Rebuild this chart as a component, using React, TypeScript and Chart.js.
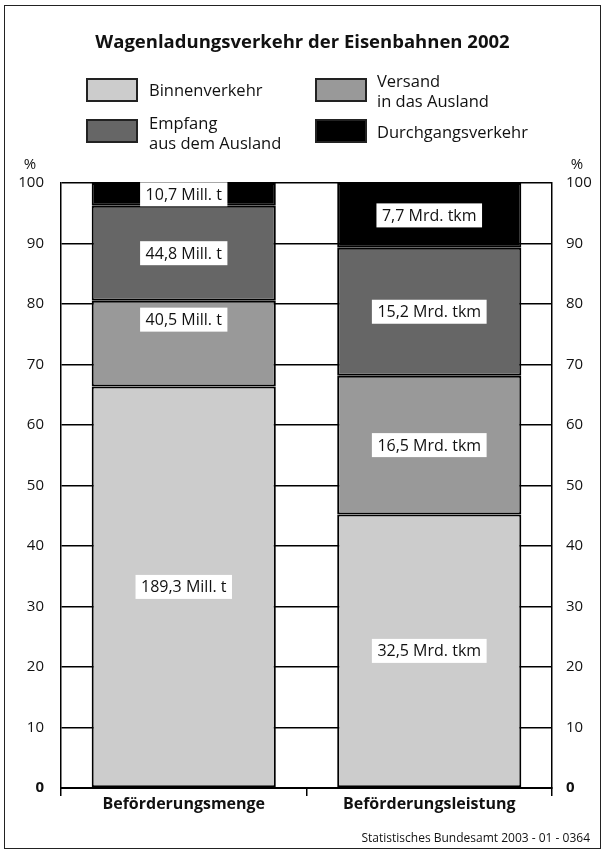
import React, { useEffect, useRef } from "react";
import { Chart, registerables } from "chart.js";

Chart.register(...registerables);

const categories = ["Beförderungsmenge", "Beförderungsleistung"];
const units = ["Mill. t", "Mrd. tkm"];
const seriesNames = ["Binnenverkehr", "Versand in das Ausland", "Empfang aus dem Ausland", "Durchgangsverkehr"];
const binnenverkehr = [189.3, 32.5];
const versand = [40.5, 16.5];
const empfang = [44.8, 15.2];
const durchgang = [10.7, 7.7];
const yTicks = [0, 10, 20, 30, 40, 50, 60, 70, 80, 90, 100];

const colors = ["#cccccc", "#999999", "#666666", "#000000"];
const FONT = "'Open Sans', 'Noto Sans', sans-serif";
// visual nudge (px) of value labels, keyed "dataset-category"
const labelNudge: Record<string, number> = { "1-0": -24 };

const raw = [binnenverkehr, versand, empfang, durchgang];
const totals = categories.map((_, j) => raw.reduce((s, arr) => s + arr[j], 0));
const shares = raw.map((arr) => arr.map((v, j) => (v / totals[j]) * 100));

const valueLabels = {
  id: "valueLabels",
  afterDatasetsDraw(chart: any) {
    const ctx = chart.ctx;
    ctx.save();
    ctx.font = `16px ${FONT}`;
    ctx.textAlign = "center";
    ctx.textBaseline = "middle";
    chart.data.datasets.forEach((ds: any, i: number) => {
      const meta = chart.getDatasetMeta(i);
      meta.data.forEach((bar: any, j: number) => {
        const p = bar.getProps(["x", "y", "base"], true);
        const cy = (p.y + p.base) / 2 + (labelNudge[`${i}-${j}`] || 0);
        const txt = raw[i][j].toFixed(1).replace(".", ",") + " " + units[j];
        const w = ctx.measureText(txt).width + 11;
        const h = 24;
        ctx.fillStyle = "#ffffff";
        ctx.fillRect(p.x - w / 2, cy - h / 2, w, h);
        ctx.fillStyle = "#111111";
        ctx.fillText(txt, p.x, cy + 1);
      });
    });
    ctx.restore();
  },
};

function ChartCanvas() {
  const ref = useRef<HTMLCanvasElement>(null);
  useEffect(() => {
    if (!ref.current) return;
    const tickFont = (c: any) => ({
      family: FONT,
      size: 15,
      weight: c.tick && c.tick.value === 0 ? "bold" : "normal",
    });
    const chart = new Chart(ref.current, {
      type: "bar",
      data: {
        labels: categories,
        datasets: shares.map((d, i) => ({
          label: seriesNames[i],
          data: d,
          backgroundColor: colors[i],
          borderColor: "#000000",
          borderWidth: 2,
          borderSkipped: false,
          barPercentage: 0.75,
          categoryPercentage: 1,
        })),
      },
      options: {
        responsive: false,
        animation: false,
        layout: { padding: { top: 183, left: 0, right: 0, bottom: 0 } },
        plugins: { legend: { display: false }, tooltip: { enabled: false }, title: { display: false } },
        scales: {
          x: {
            stacked: true,
            grid: { offset: true, drawOnChartArea: false, drawTicks: true, tickLength: 8, color: "#000", lineWidth: 1.5 },
            border: { display: true, color: "#000", width: 2 },
            ticks: { color: "#111", padding: -1, font: { family: FONT, size: 16, weight: "bold" } },
            afterFit: (s: any) => { s.height = 65; },
          },
          y: {
            stacked: true,
            position: "left",
            min: 0,
            max: 100,
            afterBuildTicks: (s: any) => { s.ticks = yTicks.map((v) => ({ value: v })); },
            grid: { color: "#000", lineWidth: 1.5, drawTicks: false },
            border: { display: true, color: "#000", width: 1.5 },
            ticks: { color: "#111", padding: 17, font: tickFont },
            afterFit: (s: any) => { s.width = 61; },
          },
          y2: {
            position: "right",
            min: 0,
            max: 100,
            afterBuildTicks: (s: any) => { s.ticks = yTicks.map((v) => ({ value: v })); },
            grid: { drawOnChartArea: false, drawTicks: false },
            border: { display: true, color: "#000", width: 1.5 },
            ticks: { color: "#111", padding: 14, font: tickFont },
            afterFit: (s: any) => { s.width = 53; },
          },
        },
      } as any,
      plugins: [valueLabels],
    });
    return () => chart.destroy();
  }, []);
  return <canvas ref={ref} width={605} height={853} style={{ position: "absolute", left: 0, top: 0, width: 605, height: 853 }} />;
}

const txt: React.CSSProperties = { position: "absolute", fontFamily: FONT, color: "#111", whiteSpace: "nowrap" };

function LegendBox({ left, top, color }: { left: number; top: number; color: string }) {
  return (
    <div style={{ position: "absolute", left, top, width: 52, height: 24, boxSizing: "border-box", background: color, border: "2px solid #222" }} />
  );
}

export default function App() {
  useEffect(() => {
    document.body.style.margin = "0";
  }, []);
  return (
    <div style={{ position: "relative", width: 605, height: 853, background: "#fff", overflow: "hidden" }}>
      <div style={{ position: "absolute", left: 4, top: 5, width: 597, height: 844, boxSizing: "border-box", border: "1.5px solid #222" }} />
      <ChartCanvas />
      <div style={{ ...txt, left: 0, width: 605, top: 29, textAlign: "center", fontSize: 18.5, fontWeight: "bold", lineHeight: "24px" }}>
        Wagenladungsverkehr der Eisenbahnen 2002
      </div>
      <LegendBox left={86} top={78} color={colors[0]} />
      <div style={{ ...txt, left: 149, top: 80, fontSize: 16.5, lineHeight: "20px" }}>Binnenverkehr</div>
      <LegendBox left={315} top={78} color={colors[1]} />
      <div style={{ ...txt, left: 377, top: 71, fontSize: 16.5, lineHeight: "20px" }}>Versand<br />in das Ausland</div>
      <LegendBox left={86} top={119} color={colors[2]} />
      <div style={{ ...txt, left: 149, top: 113, fontSize: 16.5, lineHeight: "20px" }}>Empfang<br />aus dem Ausland</div>
      <LegendBox left={315} top={119} color={colors[3]} />
      <div style={{ ...txt, left: 377, top: 122, fontSize: 16.5, lineHeight: "20px" }}>Durchgangsverkehr</div>
      <div style={{ ...txt, left: 20, width: 20, top: 154, textAlign: "center", fontSize: 15, lineHeight: "18px" }}>%</div>
      <div style={{ ...txt, left: 567, width: 20, top: 154, textAlign: "center", fontSize: 15, lineHeight: "18px" }}>%</div>
      <div style={{ ...txt, right: 15, top: 829, fontSize: 12, lineHeight: "18px" }}>Statistisches Bundesamt 2003 - 01 - 0364</div>
    </div>
  );
}
